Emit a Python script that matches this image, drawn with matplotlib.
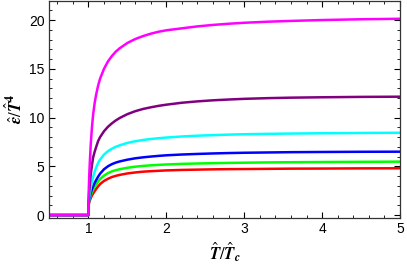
import matplotlib
matplotlib.use("Agg")
import matplotlib.pyplot as plt
from matplotlib.ticker import MultipleLocator

plt.rcParams['mathtext.fontset'] = 'stix'
plt.rcParams['font.family'] = ['Liberation Sans', 'DejaVu Sans']

# shared x samples (T/Tc); the repeated 1.0 gives the jump at Tc
x_vals = [0.5, 1.0, 1.0, 1.005, 1.01, 1.02, 1.03, 1.045, 1.06, 1.08, 1.1, 1.125,
          1.15, 1.2, 1.25, 1.3, 1.35, 1.4, 1.5, 1.6, 1.7, 1.8, 1.9, 2.0, 2.2,
          2.4, 2.6, 2.8, 3.0, 3.3, 3.6, 4.0, 4.5, 5.0]

red_vals = [0, 0, 0.9, 1.1, 1.3, 1.55, 1.75, 2.0, 2.2, 2.45, 2.68, 2.95,
            3.18, 3.5, 3.72, 3.9, 4.02, 4.12, 4.27, 4.37, 4.45, 4.5, 4.54, 4.58, 4.63,
            4.66, 4.69, 4.71, 4.72, 4.74, 4.76, 4.77, 4.79, 4.8]
green_vals = [0, 0, 1.0, 1.25, 1.5, 1.8, 2.05, 2.35, 2.6, 2.9, 3.15, 3.45,
              3.7, 4.05, 4.3, 4.48, 4.6, 4.7, 4.85, 4.96, 5.04, 5.1, 5.15, 5.19, 5.25,
              5.29, 5.32, 5.35, 5.37, 5.4, 5.42, 5.44, 5.46, 5.48]
blue_vals = [0, 0, 1.0, 1.3, 1.6, 2.0, 2.3, 2.65, 2.95, 3.3, 3.6, 3.95,
             4.25, 4.7, 5.0, 5.22, 5.38, 5.5, 5.68, 5.82, 5.92, 6.0, 6.07, 6.13, 6.21,
             6.27, 6.32, 6.36, 6.39, 6.42, 6.45, 6.47, 6.49, 6.5]
cyan_vals = [0, 0, 1.0, 1.4, 1.8, 2.3, 2.8, 3.4, 3.9, 4.45, 4.9, 5.35,
             5.7, 6.2, 6.55, 6.8, 7.0, 7.15, 7.4, 7.57, 7.7, 7.8, 7.88, 7.95, 8.06,
             8.14, 8.2, 8.25, 8.29, 8.33, 8.36, 8.39, 8.42, 8.44]
purple_vals = [0, 0, 1.0, 1.8, 2.5, 3.4, 4.2, 5.1, 5.9, 6.5, 7.0, 7.6,
               8.0, 8.6, 9.05, 9.4, 9.7, 9.95, 10.35, 10.65, 10.88, 11.05, 11.2, 11.32, 11.52,
               11.66, 11.77, 11.85, 11.92, 11.99, 12.04, 12.08, 12.12, 12.14]
magenta_vals = [0, 0, 1.0, 2.8, 4.0, 5.8, 7.3, 9.0, 10.3, 11.5, 12.4, 13.3,
                14.0, 15.0, 15.75, 16.3, 16.75, 17.1, 17.65, 18.05, 18.35, 18.6, 18.8, 18.95, 19.15,
                19.35, 19.5, 19.62, 19.72, 19.83, 19.91, 20.0, 20.08, 20.13]

series = [
    (red_vals, '#FF0000'),
    (green_vals, '#00FF00'),
    (blue_vals, '#0000FF'),
    (cyan_vals, '#00FFFF'),
    (purple_vals, '#800080'),
    (magenta_vals, '#FF00FF'),
]

x_major = [1, 2, 3, 4, 5]
y_major = [0, 5, 10, 15, 20]

fig = plt.figure(figsize=(4.07, 2.69), dpi=100)
ax = fig.add_axes([0.1216, 0.1914, 0.8612, 0.8066])

for vals, col in series:
    ax.plot(x_vals, vals, color=col, lw=1.8, solid_joinstyle='round')

ax.set_xlim(0.5, 5.0)
ax.set_ylim(-0.25, 22.0)
ax.set_xticks(x_major)
ax.set_yticks(y_major)
ax.xaxis.set_minor_locator(MultipleLocator(0.2))
ax.yaxis.set_minor_locator(MultipleLocator(1))
ax.tick_params(which='both', direction='in', top=True, right=True,
               colors='black', labelsize=10)
ax.tick_params(which='major', length=4, width=0.8)
ax.tick_params(which='minor', length=2.2, width=0.6)
for s in ax.spines.values():
    s.set_color('#333333')
    s.set_linewidth(0.9)

ax.set_xlabel(r'$\hat{\mathbfit{T}}/\hat{\mathbfit{T}}_{\mathbfit{c}}$', fontsize=12, labelpad=3)
ax.set_ylabel(r'$\hat{\mathbfit{\varepsilon}}/\hat{\mathbfit{T}}^{\mathbf{4}}$', fontsize=12, labelpad=3)

fig.savefig('out.png', dpi=100)
